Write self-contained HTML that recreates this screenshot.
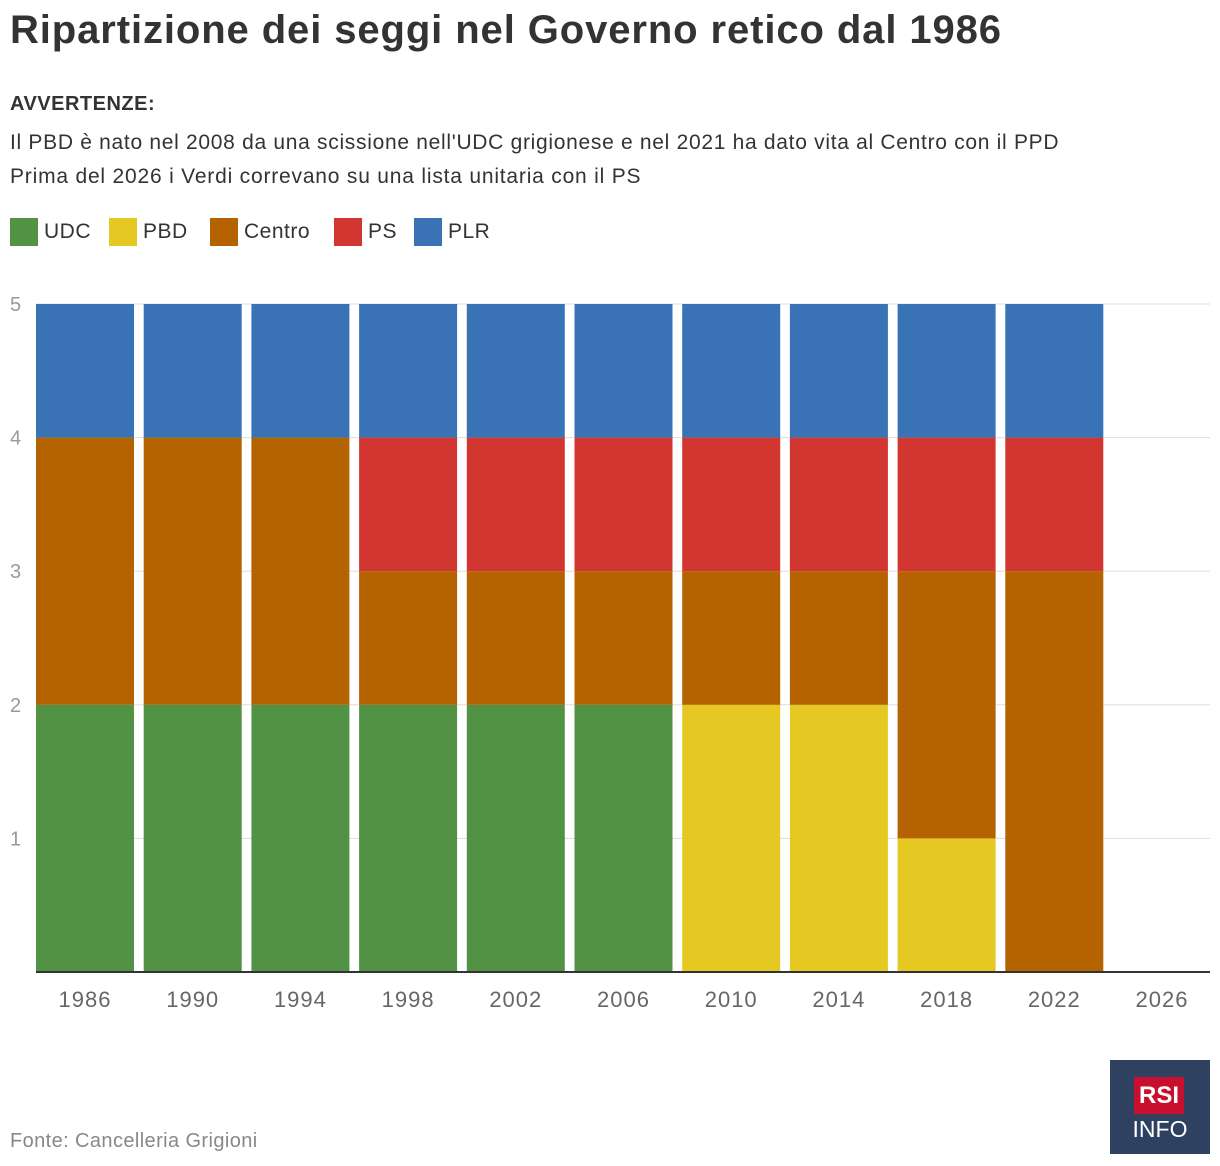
<!DOCTYPE html>
<html><head><meta charset="utf-8"><style>
body{margin:0;width:1220px;height:1166px;background:#fff;font-family:"Liberation Sans",sans-serif;position:relative;overflow:hidden;color:#333}
.t{position:absolute;white-space:nowrap}
</style></head><body>
<div class="t" style="left:10px;top:8px;font-size:40px;font-weight:bold;color:#333;letter-spacing:0.9px">Ripartizione dei seggi nel Governo retico dal 1986</div>
<div class="t" style="left:10px;top:93px;font-size:20px;font-weight:bold;letter-spacing:0.5px">AVVERTENZE:</div>
<div class="t" style="left:10px;top:131px;font-size:21px;letter-spacing:0.7px">Il PBD è nato nel 2008 da una scissione nell'UDC grigionese e nel 2021 ha dato vita al Centro con il PPD</div>
<div class="t" style="left:10px;top:165px;font-size:21px;letter-spacing:0.8px">Prima del 2026 i Verdi correvano su una lista unitaria con il PS</div>
<div id="legend"></div>
<svg id="chart" width="1220" height="1040" style="position:absolute;left:0;top:0"></svg>
<div class="t" style="left:10px;top:1130px;font-size:20px;color:#888;letter-spacing:0.4px">Fonte: Cancelleria Grigioni</div>
<div style="position:absolute;left:1110px;top:1060px;width:100px;height:94px;background:#2f4161">
<div style="position:absolute;left:24px;top:17px;width:50px;height:37px;background:#c8102e;color:#fff;font-weight:bold;font-size:24px;text-align:center;line-height:37px">RSI</div>
<div style="position:absolute;left:0;width:100px;top:56px;color:#fff;font-size:23px;text-align:center">INFO</div>
</div>
<script>
const years=["1986","1990","1994","1998","2002","2006","2010","2014","2018","2022","2026"];
const parties=["UDC","PBD","Centro","PS","PLR"];
const colors=["#529244","#e6c822","#b56200","#d23630","#3a73b5"];
const udc=[2,2,2,2,2,2,0,0,0,0,0];
const pbd=[0,0,0,0,0,0,2,2,1,0,0];
const centro=[2,2,2,1,1,1,1,1,2,3,0];
const ps=[0,0,0,1,1,1,1,1,1,1,0];
const plr=[1,1,1,1,1,1,1,1,1,1,0];
const yTicks=[1,2,3,4,5];
const series=[udc,pbd,centro,ps,plr];
const NS="http://www.w3.org/2000/svg";
const svg=document.getElementById('chart');
const x0=36,x1=1210,y0=972,yTop=304;
const slot=107.7,bw=98;
const xs=i=>x0+i*slot;
const ys=v=>y0-(y0-yTop)*v/5;
function mk(t,a){const e=document.createElementNS(NS,t);for(const k in a)e.setAttribute(k,a[k]);svg.appendChild(e);return e;}
yTicks.forEach(v=>{
 const l=mk('line',{x1:x0,x2:x1,y1:ys(v),y2:ys(v),stroke:'#ddd','stroke-width':1});
 
 
 const t=mk('text',{x:10,y:ys(v)+7,'font-size':20,fill:'#999','font-family':'Liberation Sans'});
 t.textContent=v;
 
 
});
years.forEach((yr,i)=>{
 let acc=0;
 series.forEach((s,j)=>{
  if(s[i]>0){
   const r=mk('rect',{x:xs(i),y:ys(acc+s[i]),width:bw,height:ys(acc)-ys(acc+s[i]),fill:colors[j]});
   
   
  }
  acc+=s[i];
 });
 const t=mk('text',{x:xs(i)+bw/2,y:1007,'font-size':22,fill:'#666','text-anchor':'middle','font-family':'Liberation Sans','letter-spacing':'1'});
 t.textContent=yr;
 
 
});
const ax=mk('line',{x1:x0,x2:x1,y1:y0,y2:y0,stroke:'#333','stroke-width':2});


const lg=document.getElementById('legend');
const lx=[10,109,210,334,414];
parties.forEach((p,j)=>{
 const d=document.createElement('div');
 
 
 d.style.cssText='position:absolute;top:218px;left:'+lx[j]+'px;font-size:21px;white-space:nowrap;letter-spacing:0.5px;';
 d.innerHTML='<span style="display:inline-block;width:28px;height:28px;background:'+colors[j]+';vertical-align:middle;margin-right:6px"></span><span style="vertical-align:middle">'+p+'</span>';
 lg.appendChild(d);
});
</script>
</body></html>
